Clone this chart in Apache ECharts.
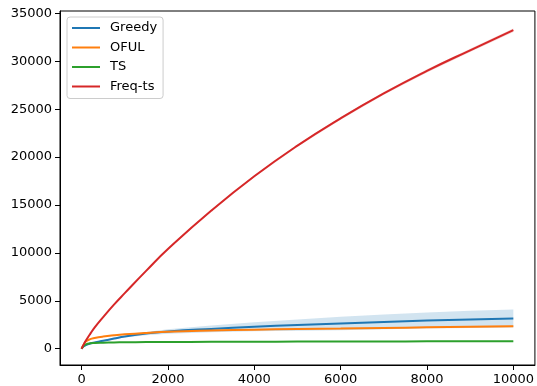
<!DOCTYPE html>
<html>
<head>
<meta charset="utf-8">
<script src="https://cdn.jsdelivr.net/npm/echarts@6/dist/echarts.min.js"></script>
<style>
  html, body { margin: 0; padding: 0; background: #fff; }
  #chart { width: 537px; height: 386px; }
</style>
</head>
<body>
<div id="chart"></div>
<script>
// shared x positions (rounds)
const steps = [0, 50, 100, 200, 300, 500, 750, 1000, 1500, 2000, 3000, 4000, 5000, 6000, 7000, 8000, 9000, 10000];

// mean regret
const greedy = [0, 250, 380, 540, 650, 830, 1060, 1280, 1580, 1800, 2070, 2290, 2470, 2640, 2800, 2940, 3060, 3160];
const oful   = [0, 450, 750, 1000, 1120, 1270, 1400, 1500, 1650, 1770, 1900, 1990, 2060, 2110, 2170, 2230, 2290, 2350];
const ts     = [0, 300, 450, 560, 600, 630, 655, 670, 690, 700, 715, 730, 740, 750, 760, 770, 780, 790];
const freqTs = [0, 450, 850, 1550, 2200, 3300, 4600, 5800, 8150, 10400, 14400, 18000, 21200, 24050, 26650, 29000, 31150, 33250];

// half width of the shaded bands
const greedySpread = [0, 20, 30, 40, 50, 70, 90, 110, 170, 240, 360, 480, 590, 700, 770, 830, 890, 940];
const ofulSpread   = [0, 20, 30, 40, 50, 55, 60, 60, 60, 60, 65, 65, 70, 70, 70, 75, 75, 75];
const tsSpread     = [0, 15, 20, 25, 25, 25, 25, 25, 25, 25, 25, 25, 25, 25, 25, 25, 25, 25];
const freqSpread   = [0, 5, 10, 15, 20, 25, 30, 40, 50, 60, 80, 100, 120, 140, 150, 160, 170, 180];

const names = ["Greedy", "OFUL", "TS", "Freq-ts"];
const colors = ["#1f77b4", "#ff7f0e", "#2ca02c", "#d62728"];
const means = [greedy, oful, ts, freqTs];
const spreads = [greedySpread, ofulSpread, tsSpread, freqSpread];

const xTicks = [0, 2000, 4000, 6000, 8000, 10000];
const yTicks = [0, 5000, 10000, 15000, 20000, 25000, 30000, 35000];

const font = "DejaVu Sans";

function pairs(vals) {
  return steps.map((x, i) => [x, vals[i]]);
}

// shaded band: upper edge forward, lower edge back, one polygon per series
const bandSeries = means.map((m, k) => ({
  type: "custom",
  name: "band" + k,
  silent: true,
  data: [[k]],
  renderItem(params, api) {
    const upper = steps.map((x, i) => api.coord([x, m[i] + spreads[k][i]]));
    const lower = steps.map((x, i) => api.coord([x, m[i] - spreads[k][i]])).reverse();
    return {
      type: "polygon",
      shape: { points: upper.concat(lower) },
      style: { fill: colors[k], opacity: 0.2 }
    };
  }
}));

const lineSeries = means.map((m, k) => ({
  type: "line",
  name: names[k],
  data: pairs(m),
  symbol: "none",
  smooth: 0.5,
  lineStyle: { color: colors[k], width: 2 },
  itemStyle: { color: colors[k] }
}));

const chart = echarts.init(document.getElementById("chart"), null, { renderer: "canvas" });

chart.setOption({
  animation: false,
  backgroundColor: "#ffffff",
  textStyle: { fontFamily: font },
  grid: {
    left: 60, right: 1, top: 11, bottom: 20,
    show: true, borderColor: "#000", borderWidth: 1, backgroundColor: "transparent"
  },
  legend: {
    data: names,
    orient: "vertical",
    left: 67, top: 17,
    padding: [4.5, 6, 5.5, 5],
    itemGap: 6.5,
    itemWidth: 28, itemHeight: 13,
    icon: "path://M0,0 L28,0 L28,2 L0,2 Z",
    borderColor: "#cccccc", borderWidth: 1, borderRadius: 3,
    backgroundColor: "rgba(255,255,255,0.8)",
    textStyle: { fontFamily: font, fontSize: 13, color: "#000", padding: [0, 0, 0, 5] }
  },
  xAxis: {
    type: "value",
    min: -500, max: 10500,
    splitLine: { show: false },
    axisLine: { onZero: false, lineStyle: { color: "#000", width: 1 } },
    axisTick: { show: true, length: 5, lineStyle: { color: "#000" }, customValues: xTicks },
    axisLabel: { fontFamily: font, fontSize: 13, color: "#000", margin: 8, customValues: xTicks, formatter: v => String(v) }
  },
  yAxis: {
    type: "value",
    min: -1700, max: 35250,
    splitLine: { show: false },
    axisLine: { show: true, onZero: false, lineStyle: { color: "#000", width: 1 } },
    axisTick: { show: true, length: 5, lineStyle: { color: "#000" }, customValues: yTicks },
    axisLabel: { fontFamily: font, fontSize: 13, color: "#000", margin: 8, customValues: yTicks, formatter: v => String(v) }
  },
  series: bandSeries.concat(lineSeries)
});
</script>
</body>
</html>
